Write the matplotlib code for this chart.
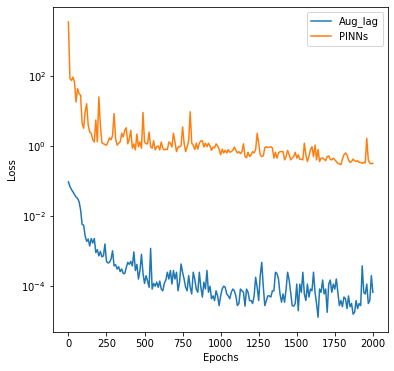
import numpy as np
import matplotlib
matplotlib.use("Agg")
import matplotlib.pyplot as plt
from matplotlib.ticker import LogLocator, NullLocator

epochs = np.arange(0, 2001, 10)

aug_lag_1 = [0.094, 0.070, 0.057, 0.049, 0.041, 0.035, 0.032, 0.026, 0.015, 0.0058,
             0.0055, 0.0027, 0.0019, 0.0022, 0.0014, 0.0023, 0.0017, 0.0023, 0.00091, 0.0011,
             0.00073, 0.00098, 0.00069, 0.00073, 0.0016, 0.00051, 0.00046, 0.00048, 0.00059, 0.00102,
             0.00038, 0.00041, 0.00031, 0.00036, 0.00026, 0.00031, 0.00023, 0.00023, 0.00034, 0.00048,
             0.00042, 0.00051, 0.00038, 0.00095, 0.00028, 0.00042, 0.00016, 0.00028, 0.00081, 0.00023,
             0.00012, 0.0002, 0.00014, 0.000093, 0.0012, 0.000083, 0.00012, 0.0001, 0.00013, 0.000093,
             0.00014, 0.000083, 0.000074, 0.00012]
aug_lag_2 = [0.00015, 0.00025, 0.00016, 0.00028, 0.000115, 0.00028, 0.00016, 0.00025, 0.000074, 0.00013,
             0.00043, 0.00025, 0.00016, 0.000093, 0.000074, 0.0002, 0.000093, 0.00006, 0.00025, 0.00016,
             0.000083, 0.000067, 0.00025, 0.000093, 0.000049, 0.00013, 0.000083, 0.00028, 0.000067, 0.0001,
             0.000044, 0.000053, 0.000039, 0.000074, 0.000053, 0.000028, 0.000053, 0.000083, 0.0001, 0.000093,
             0.00006, 0.000053, 0.000044, 0.000067, 0.000083, 0.000074, 0.000053, 0.000028, 0.000032, 0.000083,
             0.000074, 0.000067, 0.000027, 0.000083, 0.000067, 0.000039, 0.000039, 0.000032, 0.000053, 0.00018,
             0.000093, 0.000039, 0.0002, 0.00048, 0.0001, 0.000028, 0.000039, 0.000053, 0.000053]
aug_lag_3 = [0.000049, 0.000074, 0.000074, 0.00025, 0.00023, 0.00016, 0.00006, 0.000035, 0.00006, 0.000035,
             0.000083, 0.00025, 0.00015, 0.000067, 0.000028, 0.000027, 0.000032, 0.000115, 0.00002, 0.000115,
             0.000067, 0.00025, 0.00006, 0.000039, 0.000115, 0.000049, 0.000083, 0.000074, 0.00025, 0.000067,
             0.000032, 0.000013, 0.000083, 0.000067, 0.00015, 0.00006, 0.000083, 0.000018, 0.000115, 0.00015,
             0.000067, 0.000115, 0.000083, 0.00016, 0.000067, 0.000028, 0.000039, 0.000026, 0.000049, 0.000044,
             0.000023, 0.000053, 0.000026, 0.000032, 0.000016, 0.000018, 0.000039, 0.000023, 0.000032, 0.000028,
             0.00038, 0.000067, 0.00006, 0.000115, 0.000032, 0.000039, 0.0002, 0.000067]

pinns_1 = [3470, 83, 74, 92, 66, 18, 43, 31, 28, 4.5,
           3.2, 9.4, 16, 3.9, 2.5, 2.3, 1.5, 1.3, 5.5, 1.3,
           25, 3.9, 1.24, 1.15, 1.1, 1.05, 1.3, 1.7, 1.5, 2.0,
           8.4, 1.6, 1.05, 1.2, 1.3, 2.3, 1.8, 2.8, 3.3, 1.15,
           1.6, 2.8, 0.86, 1.15, 0.77, 2.2, 0.95, 1.3, 0.86, 9.0,
           1.3, 1.15, 1.15, 2.5, 0.95, 0.86, 1.4, 0.77, 0.95, 1.0,
           0.77, 1.3, 0.86, 0.77]
pinns_2 = [0.81, 0.79, 1.3, 1.2, 0.93, 2.3, 1.3, 0.69, 0.93, 0.95,
           1.0, 3.5, 1.2, 0.69, 0.95, 1.4, 9.4, 1.2, 1.05, 0.79,
           1.2, 0.81, 1.2, 1.4, 1.4, 0.93, 1.2, 0.95, 1.2, 1.0,
           0.75, 0.93, 0.88, 1.15, 1.0, 0.81, 0.56, 0.81, 0.63, 0.75,
           0.63, 0.79, 0.66, 0.69, 0.75, 0.93, 0.75, 0.63, 0.69, 0.6,
           0.69, 1.15, 0.5, 0.46, 0.66, 0.5, 0.56, 0.69, 0.63, 0.79,
           2.3, 1.2, 0.56, 0.5, 0.52, 0.88, 0.95, 0.9, 0.92]
pinns_3 = [0.95, 0.88, 0.45, 0.66, 0.45, 0.63, 0.69, 0.69, 0.69, 0.40,
           0.5, 0.75, 0.56, 0.40, 0.45, 0.5, 0.66, 0.45, 0.56, 0.42,
           0.42, 0.40, 1.2, 0.56, 0.36, 0.5, 0.79, 0.95, 0.5, 1.05,
           0.40, 0.79, 0.36, 0.45, 0.45, 0.42, 0.38, 0.5, 0.52, 0.42,
           0.40, 0.45, 0.40, 0.36, 0.32, 0.31, 0.29, 0.42, 0.56, 0.63,
           0.56, 0.40, 0.34, 0.36, 0.42, 0.38, 0.36, 0.38, 0.34, 0.34,
           0.32, 0.34, 0.33, 1.65, 0.40, 0.32, 0.31, 0.32]

aug_lag = aug_lag_1 + aug_lag_2 + aug_lag_3
pinns = pinns_1 + pinns_2 + pinns_3

DPI = 72
fig = plt.figure(figsize=(394 / DPI, 371 / DPI), dpi=DPI)
ax = fig.add_axes([0.135, 0.105, 0.85, 0.876])
ax.plot(epochs, aug_lag, label="Aug_lag")
ax.plot(epochs, pinns, label="PINNs")
ax.set_yscale("log")
ax.yaxis.set_major_locator(LogLocator(base=100.0))
ax.yaxis.set_minor_locator(NullLocator())
ax.set_xlabel("Epochs")
ax.set_ylabel("Loss")
ax.set_xticks([0, 250, 500, 750, 1000, 1250, 1500, 1750, 2000])
ax.legend(loc="upper right")
fig.savefig("out.png", dpi=DPI)
